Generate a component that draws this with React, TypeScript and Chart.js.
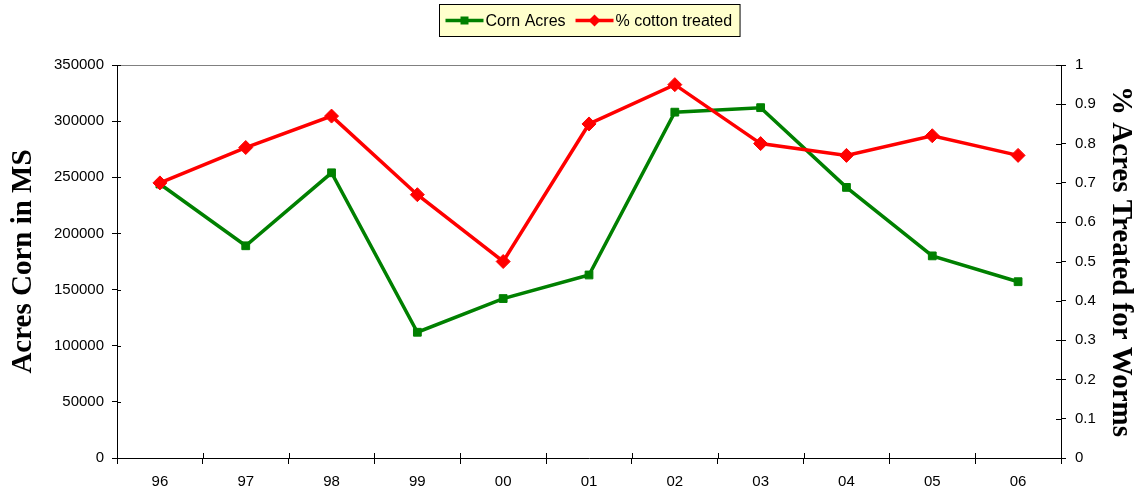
import React, { useEffect, useRef } from 'react';
import { Chart, registerables } from 'chart.js';

Chart.register(...registerables);

const years = ['96', '97', '98', '99', '00', '01', '02', '03', '04', '05', '06'];
const cornAcres = [244000, 189000, 254000, 112000, 142000, 163000, 308000, 312000, 241000, 180000, 157000];
const cottonTreated = [0.70, 0.79, 0.87, 0.67, 0.50, 0.85, 0.95, 0.80, 0.77, 0.82, 0.77];
const seriesNames = ['Corn Acres', '% cotton treated'];
const leftTitle = 'Acres Corn in MS';
const rightTitle = '% Acres Treated for Worms';

const GREEN = '#008000';
const RED = '#FF0000';
const TICK_FONT = { family: '"Liberation Sans", Arial, sans-serif', size: 15 };
const LEGEND_FONT_SIZE = 16;
const TITLE_FONT = { family: '"Liberation Serif", "Times New Roman", serif', size: 29, weight: 'bold' as const, lineHeight: 1.2 };

const framePlugin = {
  id: 'frame',
  beforeDatasetsDraw(chart: any) {
    const { ctx, chartArea } = chart;
    const { left, right, top, bottom } = chartArea;
    ctx.save();
    ctx.strokeStyle = '#808080';
    ctx.lineWidth = 1;
    ctx.beginPath();
    ctx.moveTo(left, Math.round(top) + 0.5);
    ctx.lineTo(right, Math.round(top) + 0.5);
    ctx.stroke();
    ctx.strokeStyle = '#000';
    ctx.beginPath();
    const yS = chart.scales.y;
    yS.ticks.forEach((_: any, i: number) => {
      const py = Math.round(yS.getPixelForTick(i)) + 0.5;
      ctx.moveTo(left, py);
      ctx.lineTo(left + 4, py);
    });
    const y1S = chart.scales.y1;
    y1S.ticks.forEach((_: any, i: number) => {
      const py = Math.round(y1S.getPixelForTick(i)) + 0.5;
      ctx.moveTo(right - 5, py);
      ctx.lineTo(right, py);
    });
    const xS = chart.scales.x;
    for (let i = 0; i <= years.length; i++) {
      const px = Math.round(xS.getPixelForValue(i - 0.5)) + 0.5;
      ctx.moveTo(px, bottom - 5);
      ctx.lineTo(px, bottom);
    }
    ctx.stroke();
    ctx.restore();
  },
};

const legendPlugin = {
  id: 'boxLegend',
  afterDraw(chart: any) {
    const { ctx, chartArea } = chart;
    const ds = chart.data.datasets;
    ctx.save();
    ctx.font = `${LEGEND_FONT_SIZE}px ${TICK_FONT.family}`;
    const lineLen = 38;
    const gap = 2;
    const itemGap = 10;
    const padL = 6;
    const padR = 8;
    const widths = ds.map((d: any) => ctx.measureText(d.label).width);
    const total = padL + padR + widths.reduce((a: number, w: number) => a + lineLen + gap + w, 0) + itemGap * (ds.length - 1);
    const cx = (chartArea.left + chartArea.right) / 2;
    const bx = Math.round(cx - total / 2) + 0.5;
    const by = 4.5;
    const bh = 32;
    ctx.fillStyle = '#FFFFCC';
    ctx.fillRect(bx, by, total, bh);
    ctx.strokeStyle = '#000';
    ctx.lineWidth = 1;
    ctx.strokeRect(bx, by, total, bh);
    const midY = by + bh / 2;
    let x = bx + padL;
    ds.forEach((d: any, i: number) => {
      ctx.strokeStyle = d.borderColor;
      ctx.lineWidth = 3.5;
      ctx.beginPath();
      ctx.moveTo(x, midY);
      ctx.lineTo(x + lineLen, midY);
      ctx.stroke();
      ctx.fillStyle = d.pointBackgroundColor;
      const mx = x + lineLen / 2;
      ctx.beginPath();
      if (d.pointStyle === 'rectRot') {
        const r = 6;
        ctx.moveTo(mx - r, midY);
        ctx.lineTo(mx, midY - r);
        ctx.lineTo(mx + r, midY);
        ctx.lineTo(mx, midY + r);
        ctx.closePath();
      } else {
        ctx.rect(mx - 4, midY - 4, 8, 8);
      }
      ctx.fill();
      ctx.fillStyle = '#000';
      ctx.textBaseline = 'middle';
      ctx.textAlign = 'left';
      ctx.fillText(d.label, x + lineLen + gap, midY + 1);
      x += lineLen + gap + widths[i] + itemGap;
    });
    ctx.restore();
  },
};

export default function App() {
  const ref = useRef<HTMLCanvasElement | null>(null);

  useEffect(() => {
    if (!ref.current) return;
    const chart = new Chart(ref.current, {
      type: 'line',
      data: {
        labels: years,
        datasets: [
          {
            label: seriesNames[0],
            data: cornAcres,
            yAxisID: 'y',
            borderColor: GREEN,
            backgroundColor: GREEN,
            pointBackgroundColor: GREEN,
            pointBorderColor: GREEN,
            borderWidth: 3.5,
            pointStyle: 'rect',
            pointRadius: 5.5,
            pointBorderWidth: 1,
            tension: 0,
            fill: false,
            order: 1,
          },
          {
            label: seriesNames[1],
            data: cottonTreated,
            yAxisID: 'y1',
            borderColor: RED,
            backgroundColor: RED,
            pointBackgroundColor: RED,
            pointBorderColor: RED,
            borderWidth: 3.5,
            pointStyle: 'rectRot',
            pointRadius: 7,
            pointBorderWidth: 1,
            tension: 0,
            fill: false,
            order: 0,
          },
        ],
      },
      options: {
        animation: false,
        responsive: false,
        maintainAspectRatio: false,
        layout: { padding: { top: 65, left: 0, right: 0, bottom: 0 } },
        plugins: {
          legend: { display: false },
          tooltip: { enabled: false },
          title: { display: false },
        },
        scales: {
          x: {
            type: 'category',
            offset: true,
            grid: { offset: true, drawOnChartArea: false, drawTicks: true, tickLength: 6, color: '#000', lineWidth: 1 },
            border: { display: true, color: '#000', width: 1 },
            ticks: { color: '#000', font: TICK_FONT, padding: 9, maxRotation: 0, autoSkip: false },
            afterFit: (s: any) => { s.height = 33; },
          },
          y: {
            type: 'linear',
            position: 'left',
            min: 0,
            max: 350000,
            ticks: { stepSize: 50000, color: '#000', font: TICK_FONT, padding: 8, callback: (v: any) => String(v) },
            grid: { drawOnChartArea: false, drawTicks: true, tickLength: 5, color: '#000', lineWidth: 1 },
            border: { display: true, color: '#000', width: 1 },
            title: { display: true, text: leftTitle, color: '#000', font: TITLE_FONT, padding: { top: 6, bottom: 0 } },
            afterFit: (s: any) => { s.width = 117; },
          },
          y1: {
            type: 'linear',
            position: 'right',
            min: 0,
            max: 1,
            ticks: { stepSize: 0.1, color: '#000', font: TICK_FONT, padding: 9, callback: (v: any) => String(Number(Number(v).toFixed(1))) },
            grid: { drawOnChartArea: false, drawTicks: true, tickLength: 5, color: '#000', lineWidth: 1 },
            border: { display: true, color: '#000', width: 1 },
            title: { display: true, text: rightTitle, color: '#000', font: TITLE_FONT, padding: { top: 1, bottom: 0 } },
            afterFit: (s: any) => { s.width = 78; },
          },
        },
      },
      plugins: [framePlugin, legendPlugin],
    });
    return () => chart.destroy();
  }, []);

  return (
    <div style={{ position: 'fixed', left: 0, top: 0, width: 1139, height: 491, background: '#fff' }}>
      <canvas ref={ref} width={1139} height={491} style={{ display: 'block' }} />
    </div>
  );
}
